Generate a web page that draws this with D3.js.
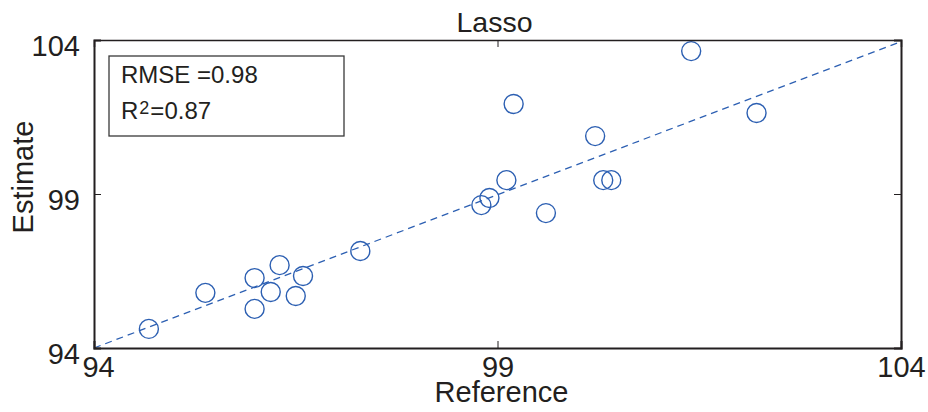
<!DOCTYPE html>
<html>
<head>
<meta charset="utf-8">
<script src="https://cdn.jsdelivr.net/npm/d3@7"></script>
<style>
  body { margin: 0; background: #fff; }
  svg { display: block; font-family: "Liberation Sans", Arial, sans-serif; }
  .axis path, .axis line { stroke: #231f20; }
  .axis text { fill: #231f20; font-size: 29px; font-family: "Liberation Sans", Arial, sans-serif; }
</style>
</head>
<body>
<svg id="chart" width="928" height="412"></svg>
<script>
// reference vs estimate
var reference = [94.68, 95.38, 95.99, 95.99, 96.19, 96.30, 96.50, 96.59, 97.30,
                 98.80, 98.90, 99.11, 99.60, 99.20, 100.21, 100.31, 100.41, 101.40, 102.21];
var estimate  = [94.62, 95.79, 96.27, 95.27, 95.82, 96.69, 95.69, 96.34, 97.15,
                 98.64, 98.87, 99.45, 98.38, 101.92, 100.88, 99.45, 99.45, 103.64, 101.63];
var ticks = [94, 99, 104];
var fitX = [94, 104];
var fitY = [94, 103.95];
var statsLines = ['RMSE =0.98', 'R', '2', '=0.87'];

var chart = d3.select('#chart'),
    margin = { top: 40, right: 27, bottom: 64, left: 94 },
    width = 928 - margin.left - margin.right,
    height = 412 - margin.top - margin.bottom,
    blue = '#2c5fb2',
    ink = '#231f20';

var x = d3.scaleLinear().domain([94, 104]).range([0, width]);
var y = d3.scaleLinear().domain([94, 104]).range([height, 0]);

var g = chart.append('g')
    .attr('transform', 'translate(' + margin.left + ',' + margin.top + ')');

// fit line
g.append('line')
    .attr('x1', x(fitX[0])).attr('y1', y(fitY[0]))
    .attr('x2', x(fitX[1])).attr('y2', y(fitY[1]))
    .attr('stroke', blue)
    .attr('stroke-width', 1.3)
    .attr('stroke-dasharray', '7,5');

// points
g.selectAll('.pt')
    .data(reference)
    .enter()
    .append('circle')
    .attr('class', 'pt')
    .attr('cx', function(d) { return x(d); })
    .attr('cy', function(d, i) { return y(estimate[i]); })
    .attr('r', 9.5)
    .attr('fill', 'none')
    .attr('stroke', blue)
    .attr('stroke-width', 1.4);

// axes (ticks inward, box)
var xAxis = d3.axisBottom(x).tickValues(ticks).tickSize(-7).tickFormat(d3.format('d')),
    yAxis = d3.axisLeft(y).tickValues(ticks).tickSize(-7).tickFormat(d3.format('d'));

var gx = g.append('g')
    .attr('class', 'axis')
    .attr('transform', 'translate(0,' + height + ')')
    .call(xAxis);
gx.select('.domain').attr('stroke-width', 2);
gx.selectAll('text').attr('dy', null).attr('y', 29);
gx.selectAll('.tick').filter(function(d) { return d === 94; }).select('text').attr('dx', 4);

var gy = g.append('g')
    .attr('class', 'axis')
    .call(yAxis);
gy.select('.domain').attr('stroke-width', 2);
gy.selectAll('text').attr('x', -14).attr('dy', '0.55em');

g.append('g')
    .attr('class', 'axis')
    .call(d3.axisTop(x).tickValues(ticks).tickSize(-7).tickFormat(''))
    .select('.domain').attr('stroke-width', 1.5);
g.append('g')
    .attr('class', 'axis')
    .attr('transform', 'translate(' + width + ',0)')
    .call(d3.axisRight(y).tickValues(ticks).tickSize(-7).tickFormat(''))
    .select('.domain').attr('stroke-width', 2);

// stats box
var box = g.append('g').attr('transform', 'translate(15,16)');
box.append('rect')
    .attr('width', 235).attr('height', 80)
    .attr('fill', '#fff')
    .attr('stroke', '#3a3a3a')
    .attr('stroke-width', 1.3);
box.append('text')
    .attr('x', 12).attr('y', 27)
    .attr('font-size', 24).attr('fill', ink)
    .text(statsLines[0]);
var r2 = box.append('text')
    .attr('x', 12).attr('y', 63)
    .attr('font-size', 24).attr('fill', ink);
r2.append('tspan').text(statsLines[1]);
r2.append('tspan').attr('font-size', 18).attr('dy', -5).attr('dx', 1).text(statsLines[2]);
r2.append('tspan').attr('dy', 5).attr('dx', 1).text(statsLines[3]);

// title and labels
chart.append('text')
    .attr('x', margin.left + x(99) - 3).attr('y', 32)
    .attr('text-anchor', 'middle')
    .attr('font-size', 28.5).attr('fill', ink)
    .text('Lasso');
chart.append('text')
    .attr('x', margin.left + x(99) + 4).attr('y', 402)
    .attr('text-anchor', 'middle')
    .attr('font-size', 29).attr('fill', ink)
    .text('Reference');
chart.append('text')
    .attr('transform', 'translate(33,177) rotate(-90)')
    .attr('text-anchor', 'middle')
    .attr('font-size', 29).attr('fill', ink)
    .text('Estimate');
</script>
</body>
</html>
